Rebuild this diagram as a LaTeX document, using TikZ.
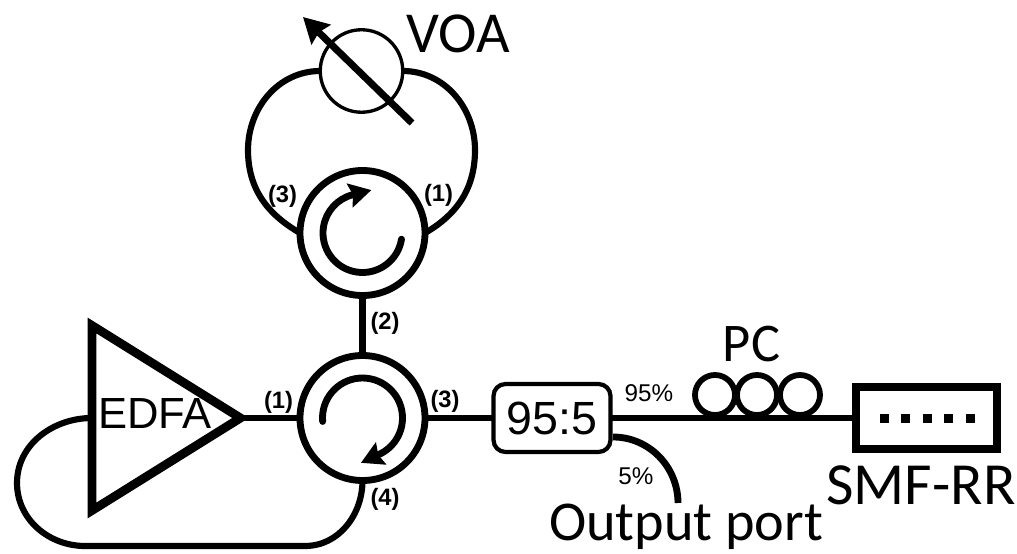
\documentclass[tikz,border=0pt]{standalone}
\usepackage{fontspec}
\setmainfont{Liberation Sans}
\newfontfamily\tagfont{Carlito}
\usetikzlibrary{shapes.geometric,arrows.meta}

\begin{document}
\begin{tikzpicture}[
    ring/.style={circle, draw, line width=3.9pt, minimum size=2.5cm, inner sep=0pt, outer sep=0pt},
    loop/.style={circle, draw, line width=3.3pt, minimum size=0.8cm, inner sep=0pt, outer sep=0pt},
    fiber/.style={line width=3.5pt},
    flow/.style={line width=3.9pt, line cap=round, -{Stealth[length=0.44cm, width=0.48cm, inset=0.06cm]}},
    port/.style={font=\bfseries\fontsize{13.5}{15}\selectfont},
    share/.style={font=\fontsize{13.8}{15}\selectfont},
    tag/.style={anchor=base, font=\tagfont\fontsize{31}{34}\selectfont}
]
    \useasboundingbox (0,0) rectangle (20.34,11.08);

    % Circulators
    \node[ring] (circU) at (7.25,6.42) {};
    \node[ring] (circL) at (7.25,2.72) {};
    \draw[flow] ([shift={(-9:0.79)}]circU.center) arc[start angle=-9, end angle=-256, radius=0.79] -- ++(14:0.38);
    \draw[flow] ([shift={(185:0.8)}]circL.center) arc[start angle=185, end angle=-67, radius=0.8] -- ++(205:0.38);

    % VOA
    \node[circle, draw, line width=1.9pt, minimum size=1.65cm, inner sep=0pt, outer sep=0pt] (voa) at (7.23,9.66) {};
    \coordinate (voaTail) at (8.24,8.62);
    \coordinate (voaTip) at (6.06,10.74);
    \draw[line width=4pt, -{Stealth[length=0.5cm, width=0.54cm, inset=0.06cm]}] (voaTail) -- (voaTip);
    \node[tag, font=\tagfont\fontsize{33}{36}\selectfont] (voaText) at (9.16,10.02) {VOA};

    % EDFA
    \node[isosceles triangle, isosceles triangle apex angle=64, isosceles triangle stretches, draw, line width=5pt,
        minimum height=2.97cm, minimum width=3.7cm, inner sep=0pt, outer sep=0pt, anchor=apex] (edfa) at (4.81,2.72) {};
    \node[anchor=base, font=\fontsize{24.8}{28}\selectfont] (edfaText) at (3.1,2.5) {EDFA};

    % Coupler and reflector
    \node[draw, rounded corners=0.24cm, line width=2.4pt, minimum width=2.34cm, minimum height=1.36cm, inner sep=0pt, outer sep=0pt,
        font=\fontsize{26.5}{30}\selectfont] (coupler) at (11.04,2.72) {95:5};
    \node[draw, line width=4.4pt, minimum width=2.82cm, minimum height=1.24cm, inner sep=0pt, outer sep=0pt] (smf) at (18.53,2.72) {};
    \foreach \i in {0,...,4}
        \node[fill=black, minimum size=0.18cm, inner sep=0pt] (dot\i) at (17.68+0.43*\i,2.7) {};

    % Polarization controller
    \foreach \i/\x in {1/14.3,2/15.14,3/16.0}
        \node[loop] (pc\i) at (\x,3.18) {};

    % Fibers
    \draw[fiber] (circU) -- (circL);
    \draw[fiber] (edfa.apex) -- (circL);
    \draw[fiber] (circL) -- (coupler);
    \draw[fiber] (coupler) -- (smf);
    \coordinate (voaL) at (4.96,8.08);
    \coordinate (voaR) at (9.5,8.08);
    \draw[fiber] (voa.west) to[out=180, in=90] (voaL) to[out=-90, in=150] (circU.west);
    \draw[fiber] (voa.east) to[out=0, in=90] (voaR) to[out=-90, in=30] (circU.east);
    \coordinate (backL) at (0.34,1.42);
    \coordinate (backB) at (1.7,0.16);
    \coordinate (backC) at (6.1,0.16);
    \draw[fiber] (edfa.west) to[out=180, in=90] (backL) to[out=-90, in=180] (backB) -- (backC) to[out=0, in=-90] (circL.south);
    \coordinate (tapA) at (12.26,2.34);
    \coordinate (tapB) at (13.56,1.02);
    \draw[fiber, line width=3.9pt] (tapA) to[out=0, in=90] (tapB);

    % Labels
    \node[port] (u3) at (5.65,7.16) {(3)};
    \node[port] (u1) at (8.77,7.18) {(1)};
    \node[port] (l2) at (7.7,4.62) {(2)};
    \node[port] (l1) at (5.57,3.04) {(1)};
    \node[port] (l3) at (8.9,3.06) {(3)};
    \node[port] (l4) at (7.7,1.1) {(4)};
    \node[share] (s95) at (12.98,3.22) {95\%};
    \node[share] (s5) at (12.72,1.56) {5\%};
    \node[tag] (pcText) at (15.03,3.84) {PC};
    \node[tag, font=\tagfont\fontsize{34}{37}\selectfont] (smfText) at (18.42,0.98) {SMF-RR};
    \node[tag, font=\tagfont\fontsize{32}{35}\selectfont] (outText) at (13.72,0.26) {Output port};
\end{tikzpicture}
\end{document}
